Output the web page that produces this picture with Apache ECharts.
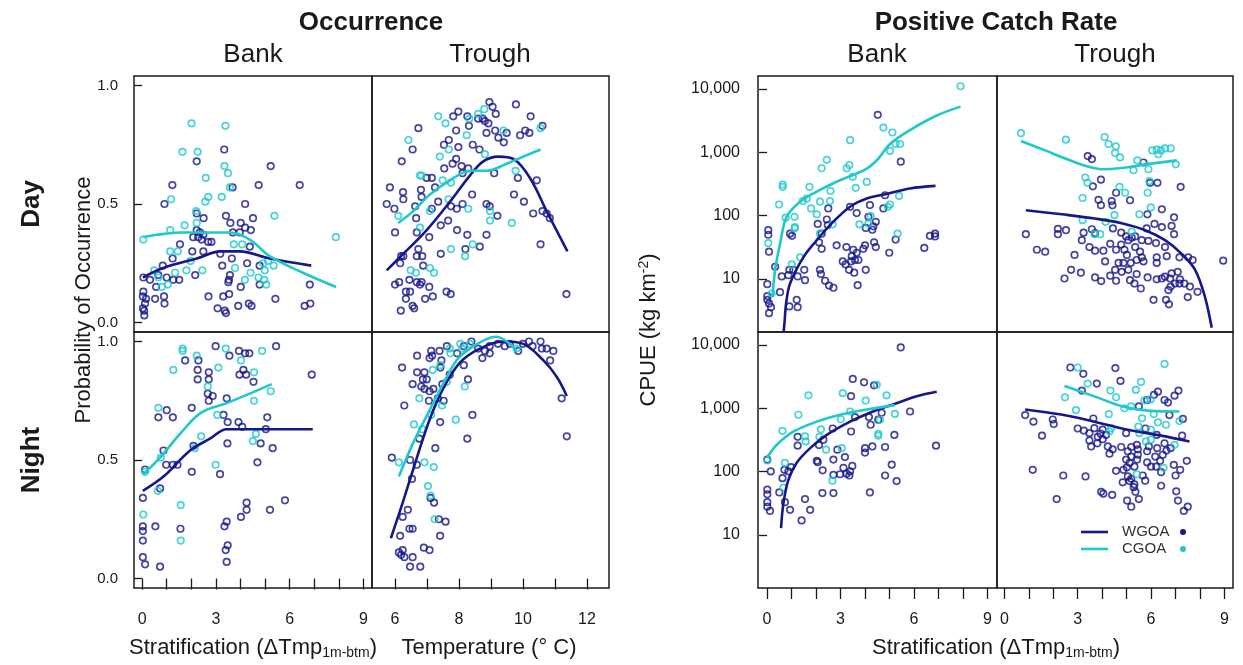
<!DOCTYPE html>
<html>
<head>
<meta charset="utf-8">
<script src="https://cdn.jsdelivr.net/npm/echarts/dist/echarts.min.js"></script>
<style>
  html, body { margin: 0; padding: 0; background: #fff; }
  #main { width: 1243px; height: 665px; }
</style>
</head>
<body>
<div id="main"></div>
<script>
// tick values and labels
var stratTicks = [0, 1, 2, 3, 4, 5, 6, 7, 8, 9];
var stratLabels = [0, 3, 6, 9];
var tempTicks = [6, 7, 8, 9, 10, 11, 12];
var tempLabels = [6, 8, 10, 12];
var probTicks = [0, 0.5, 1];
var cpueTicks = [10, 100, 1000, 10000];
var regions = ['WGOA', 'CGOA'];

// Occurrence, Day, Bank
var occDayBankW = [[3.34,0.73],[2.22,0.68],[5.23,0.66],[1.23,0.58],[4.74,0.58],[6.41,0.58],[3.68,0.57],[0.91,0.50],[4.19,0.50],[2.22,0.46],[3.41,0.45],[2.50,0.44],[4.51,0.44],[3.59,0.42],[4.01,0.42],[4.19,0.40],[4.42,0.39],[3.97,0.38],[3.69,0.38],[2.22,0.39],[2.35,0.38],[2.08,0.36],[2.28,0.36],[2.49,0.37],[2.42,0.35],[2.69,0.34],[2.82,0.34],[1.54,0.33],[4.38,0.32],[2.49,0.30],[2.04,0.30],[3.18,0.29],[1.24,0.27],[3.65,0.27],[0.84,0.24],[3.26,0.24],[4.27,0.25],[4.78,0.24],[0.66,0.20],[0.05,0.19],[0.32,0.18],[1.00,0.19],[1.27,0.18],[1.51,0.18],[2.16,0.20],[3.57,0.20],[3.53,0.18],[3.51,0.17],[0.57,0.15],[4.78,0.16],[4.01,0.15],[6.82,0.16],[0.05,0.13],[0.03,0.11],[0.16,0.10],[0.53,0.10],[0.89,0.11],[0.91,0.08],[2.70,0.11],[3.30,0.11],[3.54,0.12],[5.42,0.10],[0.12,0.08],[0.03,0.06],[0.08,0.05],[0.09,0.03],[3.07,0.06],[3.36,0.05],[3.41,0.04],[3.91,0.07],[4.34,0.08],[4.45,0.07],[6.61,0.07],[6.84,0.08]];
var occDayBankC = [[2.01,0.84],[3.39,0.83],[1.64,0.72],[2.26,0.72],[3.35,0.66],[3.49,0.63],[2.59,0.61],[3.57,0.57],[1.18,0.52],[2.69,0.53],[2.57,0.51],[3.24,0.53],[2.20,0.47],[5.38,0.45],[2.22,0.42],[1.73,0.41],[1.14,0.39],[0.05,0.35],[7.88,0.36],[3.73,0.33],[4.07,0.33],[1.14,0.30],[1.45,0.30],[1.97,0.26],[4.92,0.25],[5.12,0.26],[5.35,0.24],[3.78,0.23],[1.80,0.22],[2.45,0.22],[0.49,0.22],[1.34,0.21],[4.41,0.21],[4.73,0.19],[4.99,0.22],[4.97,0.18],[0.66,0.19],[1.05,0.16],[0.80,0.15],[4.18,0.18],[5.05,0.16]];
var occDayBankFitW = [[0.03,0.19],[0.86,0.23],[2.22,0.27],[3.19,0.30],[3.97,0.30],[5.19,0.27],[6.88,0.24]];
var occDayBankFitC = [[0.05,0.36],[0.59,0.37],[1.54,0.38],[2.62,0.38],[3.57,0.38],[4.38,0.35],[5.19,0.28],[6.54,0.21],[7.89,0.15]];

// Occurrence, Day, Trough
var occDayTroughW = [[8.95,0.93],[9.78,0.92],[9.05,0.91],[9.15,0.88],[7.98,0.89],[7.82,0.87],[8.26,0.87],[8.60,0.86],[8.74,0.86],[8.81,0.85],[10.24,0.87],[8.31,0.83],[8.92,0.84],[6.73,0.82],[7.91,0.81],[8.86,0.80],[9.13,0.81],[9.23,0.78],[9.49,0.80],[9.40,0.76],[9.91,0.79],[10.07,0.81],[10.20,0.80],[10.61,0.83],[7.68,0.77],[7.53,0.75],[7.98,0.74],[8.43,0.75],[8.64,0.73],[6.55,0.73],[6.21,0.68],[7.91,0.69],[7.80,0.67],[7.54,0.65],[8.08,0.66],[8.29,0.65],[8.11,0.63],[7.15,0.61],[6.99,0.61],[9.10,0.63],[9.84,0.61],[10.43,0.60],[5.84,0.57],[7.25,0.57],[6.81,0.56],[6.25,0.55],[6.26,0.52],[6.83,0.53],[8.41,0.54],[9.72,0.54],[7.35,0.51],[5.74,0.50],[6.63,0.49],[7.75,0.49],[7.93,0.48],[8.11,0.50],[8.86,0.50],[8.96,0.49],[10.03,0.51],[5.98,0.48],[6.66,0.44],[7.15,0.48],[9.20,0.45],[10.32,0.46],[10.61,0.47],[10.74,0.46],[10.84,0.44],[7.43,0.41],[7.66,0.43],[6.00,0.38],[6.68,0.38],[7.94,0.39],[8.26,0.37],[8.86,0.37],[7.07,0.36],[8.65,0.32],[8.20,0.31],[10.55,0.33],[6.73,0.31],[6.19,0.28],[6.26,0.28],[6.68,0.28],[6.85,0.28],[7.43,0.29],[6.16,0.25],[6.88,0.24],[6.45,0.18],[6.68,0.17],[6.00,0.16],[6.13,0.17],[6.83,0.17],[7.07,0.15],[6.78,0.16],[6.34,0.13],[6.47,0.13],[6.34,0.10],[6.94,0.10],[7.18,0.11],[7.61,0.13],[7.74,0.12],[6.55,0.07],[6.60,0.06],[6.18,0.05],[11.36,0.12]];
var occDayTroughC = [[7.35,0.87],[7.58,0.84],[8.32,0.86],[8.60,0.88],[8.79,0.90],[9.39,0.81],[10.55,0.82],[8.24,0.79],[6.42,0.77],[7.68,0.73],[7.40,0.70],[8.81,0.71],[6.78,0.62],[6.83,0.62],[7.49,0.60],[7.75,0.59],[9.77,0.64],[7.09,0.47],[7.67,0.52],[8.29,0.48],[8.97,0.47],[8.97,0.43],[9.65,0.42],[6.10,0.45],[6.78,0.40],[8.43,0.33],[7.75,0.31],[8.19,0.28],[6.49,0.22],[6.65,0.21],[7.09,0.23],[7.22,0.21]];
var occDayTroughFitW = [[5.74,0.22],[6.26,0.29],[6.99,0.39],[7.72,0.51],[8.34,0.62],[8.76,0.68],[9.23,0.70],[9.70,0.69],[10.22,0.61],[10.74,0.47],[11.39,0.30]];
var occDayTroughFitC = [[6.10,0.42],[6.57,0.47],[7.09,0.54],[7.72,0.60],[8.34,0.64],[8.86,0.64],[9.49,0.67],[10.01,0.70],[10.55,0.73]];

// Occurrence, Night, Bank
var occNightBankW = [[2.99,0.98],[5.45,0.98],[3.55,0.94],[3.94,0.96],[4.19,0.95],[4.36,0.95],[1.75,0.92],[2.29,0.92],[2.26,0.88],[2.71,0.87],[2.26,0.84],[2.71,0.84],[3.96,0.86],[4.12,0.88],[4.23,0.86],[4.53,0.83],[6.90,0.86],[2.67,0.78],[2.87,0.77],[2.71,0.75],[3.44,0.76],[1.00,0.71],[0.66,0.68],[1.25,0.68],[2.02,0.72],[3.31,0.69],[3.48,0.66],[3.92,0.66],[4.07,0.64],[5.09,0.68],[5.03,0.63],[3.47,0.57],[4.82,0.57],[5.31,0.55],[0.87,0.54],[2.09,0.56],[0.98,0.48],[1.25,0.48],[1.44,0.48],[0.12,0.46],[2.02,0.45],[3.17,0.44],[4.69,0.49],[0.03,0.34],[0.73,0.38],[4.25,0.32],[4.25,0.29],[4.02,0.26],[5.20,0.29],[5.81,0.33],[0.03,0.22],[0.03,0.20],[0.54,0.22],[1.56,0.21],[3.44,0.24],[3.35,0.22],[0.03,0.16],[3.48,0.14],[3.40,0.12],[0.03,0.09],[0.12,0.06],[0.73,0.05],[3.44,0.07]];
var occNightBankC = [[1.65,0.97],[1.65,0.96],[3.40,0.97],[4.88,0.96],[2.22,0.94],[1.27,0.88],[3.10,0.89],[4.02,0.92],[4.55,0.87],[2.67,0.81],[5.23,0.79],[4.55,0.75],[0.66,0.72],[3.06,0.69],[2.40,0.60],[4.63,0.61],[4.50,0.58],[2.15,0.55],[0.76,0.51],[2.99,0.48],[0.12,0.45],[0.64,0.37],[1.57,0.31],[0.05,0.27],[1.57,0.16]];
var occNightBankFitW = [[0.03,0.37],[0.87,0.43],[1.95,0.54],[2.76,0.59],[3.44,0.63],[4.25,0.63],[5.61,0.63],[6.94,0.63]];
var occNightBankFitC = [[0.05,0.44],[0.73,0.51],[1.54,0.61],[2.40,0.70],[3.44,0.74],[4.38,0.78],[5.27,0.82]];

// Occurrence, Night, Trough
var occNightTroughW = [[9.22,0.99],[9.59,0.99],[10.00,0.99],[10.19,1.00],[10.55,1.00],[10.59,0.97],[10.74,0.97],[10.95,0.96],[10.85,0.92],[9.85,0.96],[10.30,0.98],[8.96,0.98],[8.81,0.96],[8.60,0.97],[8.39,1.00],[8.15,0.98],[7.94,0.95],[8.96,0.95],[8.73,0.93],[9.43,0.98],[7.13,0.96],[7.39,0.96],[7.62,0.98],[6.69,0.94],[7.08,0.93],[7.16,0.94],[7.45,0.92],[6.22,0.89],[7.42,0.89],[8.15,0.90],[6.69,0.87],[6.92,0.87],[7.71,0.86],[6.55,0.82],[6.87,0.84],[6.99,0.84],[6.82,0.81],[6.92,0.80],[7.08,0.79],[7.20,0.80],[7.48,0.82],[8.28,0.84],[7.06,0.75],[7.34,0.76],[7.52,0.75],[6.29,0.73],[11.21,0.76],[8.42,0.69],[7.41,0.66],[8.26,0.59],[11.37,0.60],[6.76,0.59],[7.26,0.55],[5.90,0.51],[6.47,0.50],[6.68,0.48],[6.53,0.42],[7.11,0.34],[7.22,0.32],[6.40,0.29],[6.24,0.26],[6.45,0.21],[6.55,0.21],[7.37,0.25],[7.58,0.24],[7.41,0.18],[6.16,0.18],[6.24,0.12],[6.12,0.11],[6.19,0.10],[6.29,0.09],[6.55,0.09],[6.90,0.13],[7.08,0.12],[6.47,0.05],[6.79,0.05]];
var occNightTroughC = [[7.71,0.97],[8.04,0.99],[8.34,0.99],[8.10,0.97],[7.73,0.95],[7.18,0.88],[7.42,0.90],[7.62,0.83],[8.18,0.81],[6.76,0.76],[7.47,0.73],[7.13,0.69],[7.90,0.67],[6.59,0.65],[6.85,0.63],[6.12,0.49],[6.92,0.49],[7.21,0.47],[7.03,0.39],[7.11,0.35],[7.24,0.25],[9.80,0.97]];
var occNightTroughFitW = [[5.87,0.17],[6.24,0.32],[6.66,0.50],[7.08,0.67],[7.50,0.80],[8.02,0.91],[8.65,0.97],[9.38,1.00],[10.01,0.99],[10.64,0.92],[11.06,0.85],[11.37,0.77]];
var occNightTroughFitC = [[6.12,0.43],[6.56,0.57],[7.08,0.71],[7.50,0.82],[7.92,0.92],[8.34,0.97],[8.86,1.01],[9.17,1.02],[9.59,0.99],[9.80,0.96]];

// Positive catch rate (CPUE), Day, Bank
var cpueDayBankW = [[4.52,3900],[5.46,710],[6.86,52],[6.65,48],[6.86,47],[6.42,31],[5.25,42],[4.99,26],[4.82,210],[4.75,130],[4.20,147],[4.44,80],[4.34,68],[4.14,96],[4.03,64],[4.30,60],[3.66,110],[3.39,138],[2.50,130],[2.44,87],[2.48,71],[2.07,74],[2.23,52],[2.12,38],[2.23,30],[2.84,34],[3.24,32],[3.52,29],[3.46,23],[3.66,26],[4.00,34],[3.93,30],[4.37,38],[4.44,32],[3.09,19],[3.21,17],[3.35,14],[3.43,19],[3.59,20],[3.73,20],[3.56,12.6],[4.03,14],[3.70,8],[2.16,14],[2.20,12],[2.37,9.4],[2.53,7.9],[2.71,7.3],[1.52,14],[1.25,11],[1.07,14],[0.87,11.5],[0.60,11],[1.55,9.6],[0.53,6.2],[1.21,4.7],[1.25,3.6],[0.91,3.7],[0.33,15.6],[0.05,59],[0.05,50],[0.08,27],[0.01,8.3],[0.01,5.4],[0.01,4.7],[0.08,4.1],[0.16,3.6],[0.08,2.9],[0.94,52],[1.02,48],[0.91,14]];
var cpueDayBankC = [[7.90,11000],[4.75,2450],[5.12,2050],[3.39,1550],[5.02,1050],[5.25,1350],[5.43,1350],[2.44,760],[2.23,560],[3.25,560],[3.36,630],[3.50,410],[4.07,340],[3.62,275],[1.73,285],[0.64,310],[0.64,285],[2.59,245],[2.16,166],[2.57,170],[1.62,186],[1.46,170],[0.49,150],[1.80,130],[2.03,105],[1.12,96],[0.76,93],[1.14,66],[1.12,63],[2.68,73],[3.77,73],[4.23,98],[4.14,75],[5.39,205],[5.02,150],[4.93,138],[5.33,52],[2.16,52],[0.05,37],[1.35,22],[1.01,17],[0.19,5.9]];
var cpueDayBankFitW = [[0.68,1.5],[0.71,2.0],[0.78,4.2],[0.94,8.5],[1.48,22],[2.03,41],[2.57,71],[3.39,138],[4.07,186],[4.82,218],[5.84,269],[6.88,295]];
var cpueDayBankFitC = [[0.22,5.3],[0.33,14],[0.53,36],[0.80,96],[1.35,166],[2.03,240],[2.71,325],[3.39,420],[4.07,550],[4.54,790],[5.02,1350],[5.84,2240],[6.93,3800],[7.90,5250]];

// Positive catch rate (CPUE), Day, Trough
var cpueDayTroughW = [[3.41,870],[3.58,780],[5.69,690],[3.95,370],[3.62,290],[5.96,330],[6.26,330],[7.21,285],[4.57,230],[3.85,178],[3.95,146],[4.39,170],[4.42,146],[5.14,175],[6.44,126],[6.94,94],[6.84,69],[6.94,51],[5.85,105],[6.14,74],[6.44,66],[5.82,63],[4.44,63],[4.78,54],[4.98,47],[5.07,41],[5.21,45],[5.35,47],[5.62,41],[5.89,40],[6.20,37],[6.57,32],[0.88,51],[2.19,62],[2.52,59],[2.19,51],[3.24,54],[3.17,41],[3.58,61],[3.71,53],[3.48,32],[3.71,28],[4.05,28],[4.33,36],[4.57,29],[4.78,35],[4.91,29],[5.01,24],[5.35,32],[5.55,27],[5.62,22],[5.69,19],[5.41,20],[5.17,18],[4.87,18],[4.67,18],[4.53,14],[4.80,13],[5.07,14],[5.41,12],[5.14,9.6],[5.32,8.5],[5.58,7.1],[5.86,10.6],[6.23,18],[6.23,9.9],[6.44,10.2],[6.57,10.9],[6.78,10.2],[6.84,12.3],[7.09,13],[6.98,8.5],[7.16,8.5],[7.36,8.5],[7.59,7.6],[6.71,6.7],[6.80,7.6],[6.61,4.7],[6.73,4.0],[6.10,4.7],[7.50,5.2],[7.90,6.3],[7.18,9.9],[7.70,20],[8.95,19.5],[7.16,22],[7.52,22],[6.23,22],[6.64,23],[1.33,29],[1.67,27],[2.87,24],[4.12,19],[2.73,14],[3.13,12.6],[2.46,10.2],[3.71,10.6],[3.96,9.3],[4.33,11.3],[4.57,9.4]];
var cpueDayTroughC = [[0.68,2000],[2.52,1580],[4.10,1740],[4.26,1350],[4.56,1240],[4.53,975],[4.73,830],[6.05,1070],[6.23,1100],[6.41,1070],[6.57,1150],[6.80,1150],[6.30,930],[5.44,745],[5.89,540],[5.28,520],[7.01,645],[3.31,400],[3.40,330],[4.71,285],[4.94,230],[5.93,350],[5.86,230],[3.20,190],[5.99,135],[4.50,102],[5.52,105],[3.20,85],[4.14,80],[5.21,56],[3.69,51],[3.92,51]];
var cpueDayTroughFitW = [[0.88,122],[2.35,105],[3.71,90],[4.80,76],[5.76,59],[6.57,41],[7.25,25],[7.80,14],[8.20,5.3],[8.48,1.7]];
var cpueDayTroughFitC = [[0.68,1510],[1.67,1070],[2.63,760],[3.44,590],[3.99,540],[4.80,565],[5.76,645],[7.05,745]];

// Positive catch rate (CPUE), Night, Bank
var cpueNightBankW = [[5.46,9100],[3.50,2900],[3.96,2570],[4.37,2300],[3.43,1550],[5.84,890],[4.68,850],[4.16,725],[3.59,725],[4.54,660],[4.23,550],[2.68,480],[3.43,430],[1.25,355],[2.30,318],[1.25,257],[2.12,263],[5.20,380],[4.00,235],[4.00,200],[4.30,250],[4.82,245],[6.90,257],[2.87,222],[3.18,170],[2.71,155],[2.03,148],[2.07,141],[5.09,129],[2.27,105],[3.12,115],[3.39,101],[3.48,123],[3.36,87],[3.25,93],[2.98,91],[2.71,89],[4.82,87],[5.29,71],[0.98,118],[0.87,101],[0.71,107],[0.63,79],[0.15,101],[0.01,155],[0.50,47],[2.26,46],[2.71,46],[4.20,47],[0.01,52],[0.01,44],[0.01,33],[0.01,28],[0.12,24],[0.73,33],[0.94,25],[1.55,37],[1.76,25],[1.41,17]];
var cpueNightBankC = [[1.69,1600],[3.09,1730],[4.48,2340],[4.88,1600],[4.03,1320],[1.28,790],[3.39,890],[3.01,670],[5.22,815],[0.63,440],[2.20,465],[1.55,360],[2.14,355],[1.58,300],[4.54,395],[4.54,370],[3.05,235],[2.41,222],[4.61,660],[0.01,150],[0.73,138],[0.67,56],[2.67,72]];
var cpueNightBankFitW = [[0.57,12.9],[0.67,32],[0.87,74],[1.21,138],[1.76,235],[2.44,380],[3.39,615],[4.33,890],[5.29,1200],[6.11,1550],[6.93,1820]];
var cpueNightBankFitC = [[0.00,166],[0.39,263],[1.07,427],[2.03,615],[2.98,790],[4.07,955],[5.22,1120]];

// Positive catch rate (CPUE), Night, Trough
var cpueNightTroughW = [[2.70,4400],[4.54,4300],[3.23,3500],[4.75,2700],[3.78,2450],[3.17,1900],[6.28,1830],[7.12,1900],[6.12,1630],[6.96,1580],[6.55,1350],[6.69,1230],[5.84,1350],[5.50,1070],[6.75,780],[7.30,680],[0.85,780],[1.19,615],[1.98,665],[2.02,565],[1.54,370],[3.64,690],[3.00,480],[3.25,445],[3.48,405],[3.68,485],[3.93,400],[4.02,460],[4.16,380],[3.82,355],[3.48,310],[3.55,250],[3.80,280],[4.02,325],[4.23,250],[4.43,225],[4.30,192],[4.78,245],[4.98,405],[5.77,480],[6.23,380],[7.27,370],[6.55,280],[6.80,235],[6.25,235],[5.91,250],[5.42,265],[5.19,245],[5.05,210],[5.46,225],[5.84,210],[6.17,173],[6.48,185],[6.63,215],[6.37,148],[5.46,185],[5.43,155],[5.19,173],[4.98,155],[5.12,138],[5.32,120],[5.01,117],[4.87,107],[4.57,103],[5.84,140],[6.00,120],[6.21,120],[6.41,98],[6.93,128],[7.46,148],[7.19,107],[7.00,87],[5.66,87],[5.05,84],[5.19,77],[5.12,71],[5.32,63],[5.76,72],[4.84,68],[5.29,57],[6.41,60],[7.03,49],[7.10,35],[7.34,24],[7.50,28],[5.36,48],[5.50,37],[5.02,35],[5.19,28],[3.96,48],[4.05,45],[4.41,43],[2.14,37],[1.16,107],[2.41,87],[3.32,84]];
var cpueNightTroughC = [[6.55,5000],[3.00,4400],[3.41,2450],[5.59,2600],[5.38,1950],[4.34,1900],[4.57,1490],[2.48,1490],[5.73,1330],[5.98,1380],[2.93,935],[4.27,810],[4.91,1000],[5.18,1070],[5.63,695],[6.11,810],[6.28,600],[6.61,550],[7.16,630],[5.48,515],[4.37,485],[4.30,430],[5.52,405],[5.99,460],[5.79,300],[5.99,320],[6.96,265],[6.51,115],[5.42,91]];
var cpueNightTroughFitW = [[0.85,955],[2.32,795],[3.68,615],[5.05,460],[6.41,370],[7.57,300]];
var cpueNightTroughFitC = [[2.46,2240],[3.68,1540],[4.84,1070],[6.00,910],[7.16,890]];

(function () {
  var FONT = '"Liberation Sans", Arial, Helvetica, sans-serif';
  var NAVY = '#17178a';
  var CYAN = '#1ec8cc';
  var INK = '#1a1a1a';

  var myChart = echarts.init(document.getElementById('main'));

  // axis scales (ranges include the usual 4% padding)
  var scales = {
    stratL: { type: 'value', min: -0.33, max: 9.35, ticks: stratTicks, labels: stratLabels },
    temp:   { type: 'value', min: 5.28, max: 12.69, ticks: tempTicks, labels: tempLabels },
    stratRB: { type: 'value', min: -0.37, max: 9.39, ticks: stratTicks, labels: stratLabels },
    stratRT: { type: 'value', min: -0.30, max: 9.35, ticks: stratTicks, labels: stratLabels },
    prob:   { type: 'value', min: -0.04, max: 1.04, ticks: probTicks, labels: probTicks, size: 15, margin: 16,
              fmt: function (v) { return Number(v).toFixed(1) } },
    cpue:   { type: 'log', min: 1.462, max: 15960, ticks: cpueTicks, labels: cpueTicks, size: 16, margin: 18,
              fmt: function (v) { return Math.round(v).toLocaleString('en-US') } }
  };

  // panels: [left, top, width, height]
  var panels = [
    { box: [134, 76, 238, 256], x: 'stratL', y: 'prob', showX: false, showY: true,  W: occDayBankW, C: occDayBankC, fW: occDayBankFitW, fC: occDayBankFitC },
    { box: [372, 76, 237, 256], x: 'temp',   y: 'prob', showX: false, showY: false, W: occDayTroughW, C: occDayTroughC, fW: occDayTroughFitW, fC: occDayTroughFitC },
    { box: [134, 332, 238, 256], x: 'stratL', y: 'prob', showX: true, showY: true,  W: occNightBankW, C: occNightBankC, fW: occNightBankFitW, fC: occNightBankFitC },
    { box: [372, 332, 237, 256], x: 'temp',   y: 'prob', showX: true, showY: false, W: occNightTroughW, C: occNightTroughC, fW: occNightTroughFitW, fC: occNightTroughFitC },
    { box: [758, 76, 239, 256], x: 'stratRB', y: 'cpue', showX: false, showY: true,  W: cpueDayBankW, C: cpueDayBankC, fW: cpueDayBankFitW, fC: cpueDayBankFitC },
    { box: [997, 76, 236, 256], x: 'stratRT', y: 'cpue', showX: false, showY: false, W: cpueDayTroughW, C: cpueDayTroughC, fW: cpueDayTroughFitW, fC: cpueDayTroughFitC },
    { box: [758, 332, 239, 256], x: 'stratRB', y: 'cpue', showX: true, showY: true,  W: cpueNightBankW, C: cpueNightBankC, fW: cpueNightBankFitW, fC: cpueNightBankFitC },
    { box: [997, 332, 236, 256], x: 'stratRT', y: 'cpue', showX: true, showY: false, W: cpueNightTroughW, C: cpueNightTroughC, fW: cpueNightTroughFitW, fC: cpueNightTroughFitC }
  ];

  function axisFor(gi, key, show, isX) {
    var s = scales[key];
    var ax = {
      type: s.type, gridIndex: gi, min: s.min, max: s.max,
      axisLine: { show: false }, splitLine: { show: false },
      axisTick: { show: show, customValues: s.ticks, length: isX ? 11 : 8, lineStyle: { color: INK, width: 1.3 } },
      axisLabel: { show: show, customValues: s.labels, margin: s.margin || 24, fontSize: s.size || 16,
                   color: INK, fontFamily: FONT }
    };
    if (s.type === 'log') ax.logBase = 10;
    if (s.fmt) ax.axisLabel.formatter = s.fmt;
    return ax;
  }

  var grid = [], xAxis = [], yAxis = [], series = [];
  panels.forEach(function (p, i) {
    grid.push({ left: p.box[0], top: p.box[1], width: p.box[2], height: p.box[3],
                show: true, borderColor: INK, borderWidth: 1.5, backgroundColor: 'transparent' });
    xAxis.push(axisFor(i, p.x, p.showX, true));
    yAxis.push(axisFor(i, p.y, p.showY, false));
    [[p.W, NAVY, regions[0]], [p.C, CYAN, regions[1]]].forEach(function (d) {
      series.push({
        type: 'scatter', name: d[2], xAxisIndex: i, yAxisIndex: i, data: d[0],
        symbol: 'circle', symbolSize: 6.5, z: 2,
        itemStyle: { color: 'rgba(0,0,0,0)', borderColor: d[1], borderWidth: 1.7 }
      });
    });
    [[p.fW, NAVY, regions[0]], [p.fC, CYAN, regions[1]]].forEach(function (d) {
      series.push({
        type: 'line', name: d[2], xAxisIndex: i, yAxisIndex: i, data: d[0],
        showSymbol: false, smooth: 0.35, clip: true, z: 3,
        lineStyle: { color: d[1], width: 2.6 }
      });
    });
  });

  function txt(x, y, text, size, bold, rot, rich) {
    var el = {
      type: 'text', x: x, y: y, rotation: rot || 0,
      style: { text: text, fontSize: size, fontWeight: bold ? 'bold' : 'normal',
               fontFamily: FONT, fill: INK, align: 'center', verticalAlign: 'middle' }
    };
    if (rich) el.style.rich = rich;
    return el;
  }

  var subRich = {
    a: { fontSize: 22, fontFamily: FONT, color: INK },
    s: { fontSize: 14, fontFamily: FONT, color: INK, padding: [10, 0, 0, 0] }
  };
  var supRich = {
    a: { fontSize: 22, fontFamily: FONT, color: INK },
    s: { fontSize: 14, fontFamily: FONT, color: INK, padding: [0, 0, 9, 0] }
  };

  var graphic = [
    txt(371, 23, 'Occurrence', 26, true),
    txt(253, 55, 'Bank', 26, false),
    txt(490, 55, 'Trough', 26, false),
    txt(996, 23, 'Positive Catch Rate', 26, true),
    txt(877, 55, 'Bank', 26, false),
    txt(1115, 55, 'Trough', 26, false),
    txt(32, 204, 'Day', 26, true, Math.PI / 2),
    txt(32, 460, 'Night', 26, true, Math.PI / 2),
    txt(84, 300, 'Probability of Occurrence', 22, false, Math.PI / 2),
    txt(649, 330, '{a|CPUE (kg km}{s|-2}{a|)}', 22, false, Math.PI / 2, supRich),
    txt(253, 648, '{a|Stratification (\u0394Tmp}{s|1m-btm}{a|)}', 22, false, 0, subRich),
    txt(489, 648, 'Temperature (\u00b0 C)', 22, false),
    txt(996, 648, '{a|Stratification (\u0394Tmp}{s|1m-btm}{a|)}', 22, false, 0, subRich)
  ];

  // legend inside the night / trough catch-rate panel
  [[regions[0], NAVY, 532], [regions[1], CYAN, 549]].forEach(function (l) {
    graphic.push({ type: 'line', shape: { x1: 1081, y1: l[2], x2: 1108, y2: l[2] },
                   style: { stroke: l[1], lineWidth: 2.6 } });
    graphic.push({ type: 'text', x: 1122, y: l[2],
                   style: { text: l[0], fontSize: 15, fontFamily: FONT, fill: '#333',
                            align: 'left', verticalAlign: 'middle' } });
    graphic.push({ type: 'circle', shape: { cx: 1183, cy: l[2], r: 3 }, style: { fill: l[1] } });
  });

  var option = {
    animation: false,
    backgroundColor: '#fff',
    textStyle: { fontFamily: FONT },
    grid: grid,
    xAxis: xAxis,
    yAxis: yAxis,
    series: series,
    graphic: { elements: graphic }
  };

  myChart.setOption(option);
  window.addEventListener('resize', myChart.resize);
})();
</script>
</body>
</html>
